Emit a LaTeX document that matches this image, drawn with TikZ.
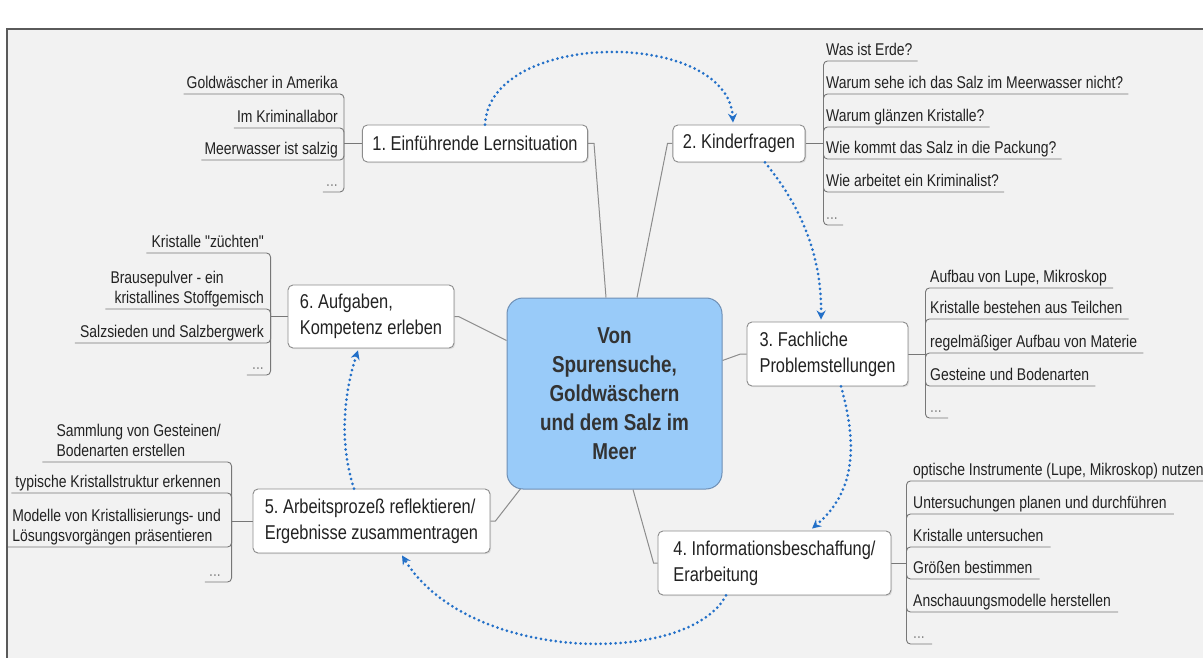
\documentclass[tikz,border=0pt]{standalone}
\usepackage{fontspec}
\setmainfont{Liberation Sans}[FakeStretch=0.82, Ligatures=TeXOff]
\usetikzlibrary{arrows.meta,shadows}
\definecolor{bggray}{HTML}{F2F2F2}
\definecolor{framecol}{HTML}{5A5A5A}
\definecolor{boxgray}{HTML}{8C8C8C}
\definecolor{txt}{HTML}{222222}
\definecolor{cfill}{HTML}{99CBF9}
\definecolor{cborder}{HTML}{6E8FB5}
\definecolor{ctext}{HTML}{333333}
\definecolor{dotblue}{HTML}{2370C8}
\definecolor{lngray}{HTML}{777777}
\definecolor{dotsgray}{HTML}{888888}
\pgfdeclarelayer{bg}
\pgfdeclarelayer{lines}
\pgfsetlayers{bg,lines,main}
\frenchspacing
\begin{document}
\begin{tikzpicture}[x=1pt,y=-1pt,
  topic/.style={draw=boxgray, line width=0.9pt, fill=white, rounded corners=5pt, text=txt,
    font=\fontsize{20}{26}\selectfont\frenchspacing, inner xsep=10pt, inner ysep=0pt, align=left,
    drop shadow={shadow xshift=1.2pt, shadow yshift=-1.2pt, opacity=0.2}},
  central/.style={draw=cborder, line width=1pt, fill=cfill, rounded corners=16pt, text=ctext,
    font=\bfseries\fontsize{23}{29}\selectfont, align=center, minimum width=215pt,
    minimum height=191pt, inner sep=0pt},
  leafL/.style={anchor=south east, inner sep=0pt, text depth=0pt, text=txt,
    font=\fontsize{17}{20}\selectfont\frenchspacing, align=left},
  leafR/.style={anchor=south west, inner sep=0pt, text depth=0pt, text=txt,
    font=\fontsize{17}{20}\selectfont\frenchspacing, align=left},
  more/.style={text=dotsgray},
  leafln/.style={draw=lngray, line width=0.9pt, rounded corners=4pt},
  conn/.style={draw=boxgray, line width=1pt},
  flow/.style={draw=dotblue, line width=3pt, line cap=round, dash pattern=on 0pt off 5pt,
    -{Stealth[length=9pt,width=9pt]}}
]
\useasboundingbox (0,0) rectangle (1203,658);
\begin{pgfonlayer}{bg}
  \fill[white] (0,0) rectangle (1203,658);
  \fill[bggray] (7,29) rectangle (1203,658);
  \draw[framecol, line width=1.2pt] (7,658) -- (7,29) -- (1203,29);
\end{pgfonlayer}

% central and topics
\node[central] (c) at (614.5,393.5) {Von\\Spurensuche,\\Goldwäschern\\und dem Salz im\\Meer};
\node[topic, minimum width=222pt, minimum height=37pt] (n1) at (475,143.5) {1. Einführende Lernsituation};
\node[topic, minimum width=128pt, minimum height=37pt] (n2) at (739,143.5) {2. Kinderfragen};
\node[topic, minimum width=161pt, minimum height=64pt] (n3) at (827.5,354) {3. Fachliche\\Problemstellungen};
\node[topic, minimum width=233pt, minimum height=64pt] (n4) at (774.5,563) {4. Informationsbeschaffung/\\Erarbeitung};
\node[topic, minimum width=237pt, minimum height=64pt, inner xsep=8pt] (n5) at (371.5,521) {5. Arbeitsprozeß reflektieren/\\Ergebnisse zusammentragen};
\node[topic, minimum width=166pt, minimum height=63pt] (n6) at (371,316.5) {6. Aufgaben,\\Kompetenz erleben};

% bracket junctions
\coordinate (b1) at ([xshift=-18pt]n1.west);
\coordinate (b2) at ([xshift=18pt]n2.east);
\coordinate (b3) at ([xshift=17pt]n3.east);
\coordinate (b4) at ([xshift=15pt]n4.east);
\coordinate (b5) at ([xshift=-21pt]n5.west);
\coordinate (b6) at ([xshift=-17pt]n6.west);

% leaves of 1
\node[leafL] (l11) at (338,89) {Goldwäscher in Amerika};
\node[leafL] (l12) at (338,123) {Im Kriminallabor};
\node[leafL] (l13) at (338,155) {Meerwasser ist salzig};
\node[leafL, more] (l14) at (338,187) {...};
% leaves of 2
\node[leafR] (l21) at (826,56) {Was ist Erde?};
\node[leafR] (l22) at (826,89) {Warum sehe ich das Salz im Meerwasser nicht?};
\node[leafR] (l23) at (826,122) {Warum glänzen Kristalle?};
\node[leafR] (l24) at (826,154) {Wie kommt das Salz in die Packung?};
\node[leafR] (l25) at (826,187) {Wie arbeitet ein Kriminalist?};
\node[leafR, more] (l26) at (826,220) {...};
% leaves of 3
\node[leafR] (l31) at (930,283) {Aufbau von Lupe, Mikroskop};
\node[leafR] (l32) at (930,314) {Kristalle bestehen aus Teilchen};
\node[leafR] (l33) at (930,348) {regelmäßiger Aufbau von Materie};
\node[leafR] (l34) at (930,381) {Gesteine und Bodenarten};
\node[leafR, more] (l35) at (930,413) {...};
% leaves of 4
\node[leafR] (l41) at (913,476) {optische Instrumente (Lupe, Mikroskop) nutzen};
\node[leafR] (l42) at (913,509) {Untersuchungen planen und durchführen};
\node[leafR] (l43) at (913,542) {Kristalle untersuchen};
\node[leafR] (l44) at (913,574) {Größen bestimmen};
\node[leafR] (l45) at (913,607) {Anschauungsmodelle herstellen};
\node[leafR, more] (l46) at (913,639) {...};
% leaves of 5
\node[leafL] (l51) at (221,457) {Sammlung von Gesteinen/\\Bodenarten erstellen};
\node[leafL] (l52) at (221,488) {typische Kristallstruktur erkennen};
\node[leafL] (l53) at (221,542) {Modelle von Kristallisierungs- und\\Lösungsvorgängen präsentieren};
\node[leafL, more] (l54) at (221,577) {...};
% leaves of 6
\node[leafL] (l61) at (264,248) {Kristalle "züchten"};
\node[leafL] (l62) at (264,304) {Brausepulver - ein\\\hspace*{4pt}kristallines Stoffgemisch};
\node[leafL] (l63) at (264,338) {Salzsieden und Salzbergwerk};
\node[leafL, more] (l64) at (264,370) {...};

\begin{pgfonlayer}{lines}
  % connectors from the centre
  \draw[conn] (n1.east) -- ++(6,0) -- ([xshift=-8.5pt]c.north);
  \draw[conn] (n2.west) -- ++(-5,0) -- ([xshift=22.5pt]c.north);
  \draw[conn] (n3.west) -- ++(-6,0) -- ([yshift=33pt]c.east);
  \draw[conn] (n4.west) -- ++(-4,0) -- ([xshift=18.5pt]c.south);
  \draw[conn] (n5.east) -- ++(5,0) -- ([xshift=15pt,yshift=2pt]c.south west);
  \draw[conn] (n6.east) -- ++(4,0) -- ([yshift=53pt]c.west);
  % branch stubs
  \draw[leafln] (n1.west) -- (b1);
  \draw[leafln] (n2.east) -- (b2);
  \draw[leafln] (n3.east) -- (b3);
  \draw[leafln] (n4.east) -- (b4);
  \draw[leafln] (n5.west) -- (b5);
  \draw[leafln] (n6.west) -- (b6);
  % underlines
  \foreach \l in {l11,l12,l13,l14} \draw[leafln] ([xshift=-3pt,yshift=-5pt]\l.south west) -| (b1);
  \foreach \l in {l21,l22,l23,l24,l25,l26} \draw[leafln] ([xshift=5pt,yshift=-5pt]\l.south east) -| (b2);
  \foreach \l in {l31,l32,l33,l34,l35} \draw[leafln] ([xshift=6pt,yshift=-5pt]\l.south east) -| (b3);
  \foreach \l in {l41,l42,l43,l44,l45,l46} \draw[leafln] ([xshift=7pt,yshift=-5pt]\l.south east) -| (b4);
  \draw[leafln] ([xshift=-14pt,yshift=-5pt]l51.south west) -| (b5);
  \foreach \l in {l52,l53,l54} \draw[leafln] ([xshift=-4pt,yshift=-5pt]\l.south west) -| (b5);
  \foreach \l in {l61,l62,l63,l64} \draw[leafln] ([xshift=-5pt,yshift=-5pt]\l.south west) -| (b6);
\end{pgfonlayer}

% process cycle
\draw[flow] ([xshift=10pt]n1.north) .. controls (490,29) and (728,29) .. ([xshift=-6pt,yshift=2pt]n2.north);
\draw[flow] ([xshift=26pt]n2.south) .. controls (800,205) and (822,255) .. ([xshift=-6.5pt,yshift=2pt]n3.north);
\draw[flow] ([xshift=13.5pt]n3.south) .. controls (856,440) and (858,490) .. ([xshift=37.5pt,yshift=2pt]n4.north);
\draw[flow] ([xshift=-48.5pt]n4.south) .. controls (690,665) and (470,665) .. ([xshift=30.5pt,yshift=-2pt]n5.south);
\draw[flow] ([xshift=-17.5pt]n5.north) .. controls (338,440) and (345,390) .. ([xshift=-13pt,yshift=-2pt]n6.south);
\end{tikzpicture}
\end{document}
